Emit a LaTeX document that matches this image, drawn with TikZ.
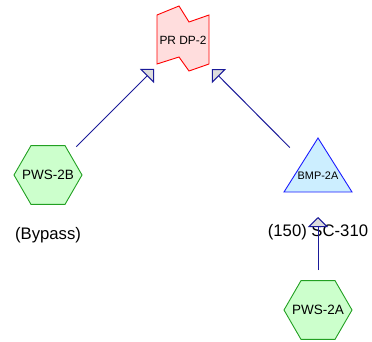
\documentclass[tikz,border=0pt]{standalone}
\usepackage{fontspec}
\setmainfont{Liberation Sans}
\usepackage{tikz}
\usetikzlibrary{arrows.meta}

\definecolor{hexfill}{HTML}{CCFFCC}
\definecolor{hexline}{HTML}{22A022}
\definecolor{prfill}{HTML}{FFDDDD}
\definecolor{triline}{HTML}{1A1AFF}
\definecolor{trifill}{HTML}{CCEEFF}
\definecolor{linkblue}{HTML}{1A1A99}
\definecolor{tipfill}{HTML}{DDDDDD}

\begin{document}
\begin{tikzpicture}[x=1pt, y=-1pt,
  hexa/.style={draw=hexline, fill=hexfill, line width=0.9pt},
  txt/.style={inner sep=0pt, font=\fontsize{13.5}{16}\selectfont},
  lbl/.style={font=\fontsize{16.7}{19}\selectfont},
  link/.style={draw=linkblue, line width=1pt, shorten <=40pt, shorten >=41pt, -{Triangle[length=10pt, width=20pt, fill=tipfill]}}]
\useasboundingbox (0,0) rectangle (372,342);

%the shapes go here
\coordinate (c1) at (183,40);
\draw[red, fill=prfill, line width=0.9pt] (c1) ++(-26,-25) -- ++(22,-9) -- ++(10,16) -- ++(20,-7) -- ++(0,49) -- ++(-20,7) -- ++(-10,-14) -- ++(-22,7) -- cycle;
\coordinate (c2) at (318,176);
\draw[triline, fill=trifill, line width=0.9pt] (c2) ++(-34,16) -- ++(34,-54) -- ++(34,54) -- cycle;
\coordinate (c3) at (48,175);
\draw[hexa] (c3) ++(-34,0) -- ++(17,-29.4) -- ++(34,0) -- ++(17,29.4) -- ++(-17,29.4) -- ++(-34,0) -- cycle;
\coordinate (c4) at (318,310);
\draw[hexa] (c4) ++(-34,0) -- ++(17,-29.4) -- ++(34,0) -- ++(17,29.4) -- ++(-17,29.4) -- ++(-34,0) -- cycle;

%the nodes go here
\node[txt, font=\fontsize{11.9}{14}\selectfont] (1) at (c1) {PR DP-2};
\node[txt, font=\fontsize{10.9}{13}\selectfont] (2) at (c2) {BMP-2A};
\node[txt] (3) at (c3) {PWS-2B};
\node[txt] (4) at (c4) {PWS-2A};

%labels
\node[lbl] (5) at (48,235) {(Bypass)};
\node[lbl] (6) at (318,232) {(150) SC-310};

%the edges go here
\draw[link] (3.center) -- (1.center);
\draw[link] (2.center) -- (1.center);
\draw[link] (4.center) -- (2.center);
\end{tikzpicture}
\end{document}
